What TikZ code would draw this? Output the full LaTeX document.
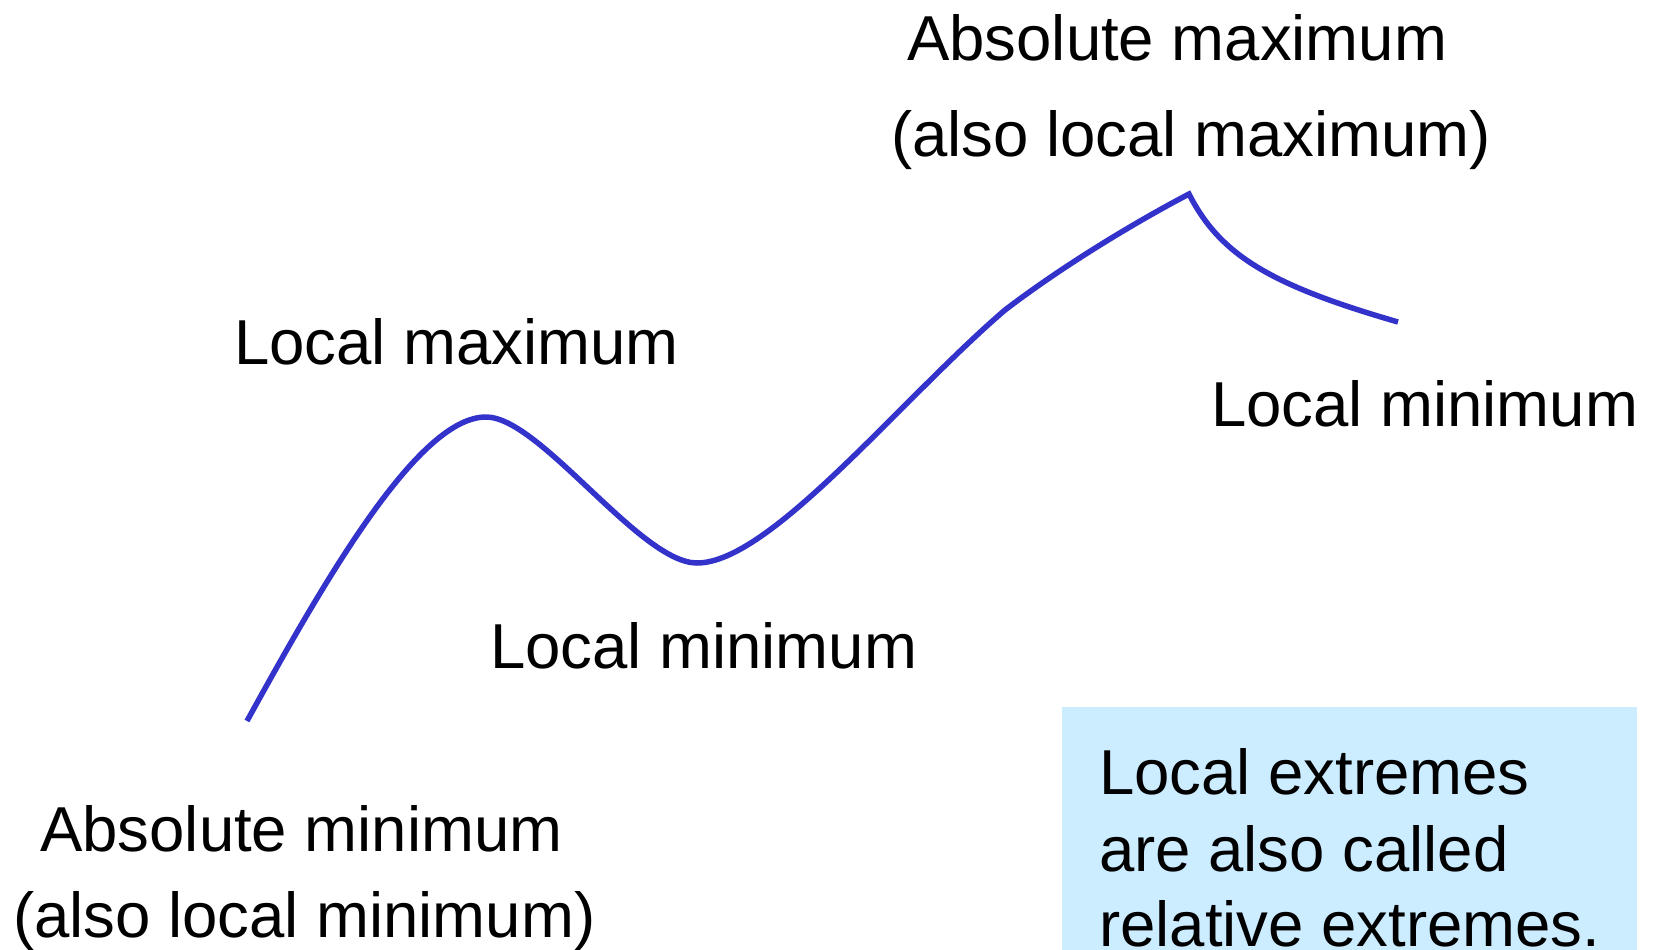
\documentclass[tikz,border=0pt]{standalone}
\usepackage{fontspec}
\setmainfont{Liberation Sans}
\definecolor{curveblue}{RGB}{51,51,204}
\definecolor{boxblue}{RGB}{204,236,255}
\begin{document}
\begin{tikzpicture}[x=1pt,y=-1pt,
  lbl/.style={anchor=base west,inner sep=0pt,font=\fontsize{63.5}{76}\selectfont},
  curve/.style={draw=curveblue,line width=5.5pt}]
\useasboundingbox (0,0) rectangle (1654,950);
\fill[boxblue] (1062,707) rectangle (1637,950);
% labels
\node[lbl] (amax1) at (907,60) {Absolute maximum};
\node[lbl] (amax2) at (891,156) {(also local maximum)};
\node[lbl] (lmax) at (234,364) {Local maximum};
\node[lbl] (lminr) at (1211,426) {Local minimum};
\node[lbl] (lminm) at (490,668) {Local minimum};
\node[lbl] (amin1) at (40,851) {Absolute minimum};
\node[lbl] (amin2) at (13,937) {(also local minimum)};
\node[lbl] (box1) at (1099,794) {Local extremes};
\node[lbl] (box2) at (1099,871) {are also called};
\node[lbl] (box3) at (1099,946) {relative extremes.};
% curve
\coordinate (S) at (247,721);
\coordinate (P) at (486,417);
\coordinate (M) at (697,563);
\coordinate (K) at (1005,310);
\coordinate (A) at (1189,194);
\coordinate (E) at (1398,322);
\draw[curve] (S) .. controls (330,570) and (420,417) .. (P)
  .. controls (540,417) and (640,563) .. (M)
  .. controls (770,563) and (900,400) .. (K)
  .. controls (1060,268) and (1130,225) .. (A)
  .. controls (1220,255) and (1270,285) .. (E);
\end{tikzpicture}
\end{document}
